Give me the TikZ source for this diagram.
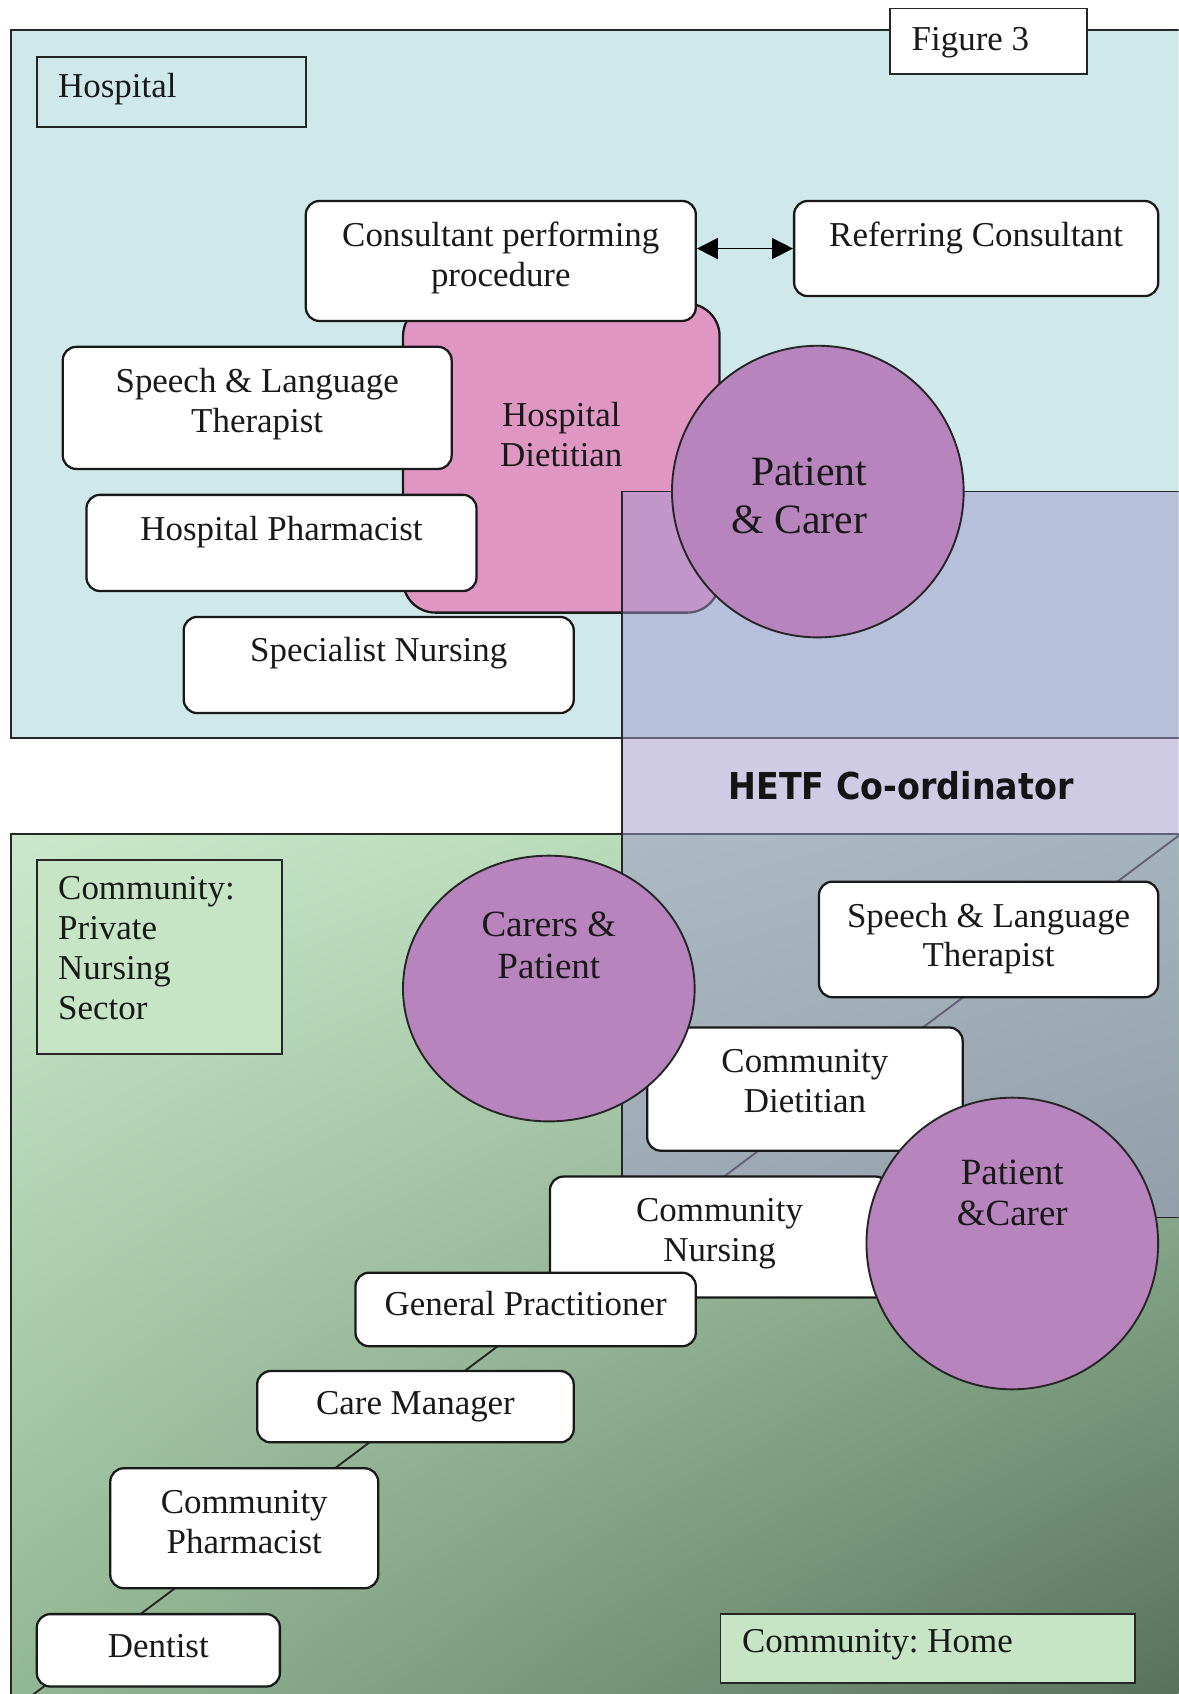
\documentclass[tikz,border=0pt]{standalone}
\usepackage{fontspec}
\setmainfont{Liberation Serif}
\newfontfamily\hetffont[FakeStretch=0.9]{DejaVu Sans}
\usepackage{xcolor}
\usetikzlibrary{positioning,shapes.geometric,arrows.meta,shadings}
\definecolor{hospcyan}{HTML}{CFE9EA}
\definecolor{dietpink}{HTML}{E096C3}
\definecolor{patmauve}{HTML}{B784BE}
\definecolor{coordlav}{HTML}{A199CD}
\definecolor{seclabel}{HTML}{C6E5C4}
\definecolor{grnUL}{HTML}{CAE9CA}
\definecolor{grnUR}{HTML}{A8CFAA}
\definecolor{grnLL}{HTML}{92B794}
\definecolor{grnLR}{HTML}{56705A}
\newlength\upx
\setlength\upx{0.02cm}
\frenchspacing
% centred text, first baseline #1 below the top of the box
\newcommand\cbox[4][41]{\parbox[c][#3\upx][t]{#2\upx}{\centering\rule{0pt}{#1\upx}#4}}
% left text for the sector labels
\newcommand\lbox[4][37]{\parbox[c][#3\upx][t]{#2\upx}{\raggedright\leftskip=20\upx\rule{0pt}{#1\upx}#4}}

\begin{document}
\begin{tikzpicture}[x=0.02cm,y=-0.02cm,
    font=\fontsize{18.4}{21}\selectfont,text=black!90,
    region/.style={draw=black!85,line width=0.85pt},
    rbox/.style={draw=black!90,fill=white,rounded corners=0.25cm,line width=1.2pt,inner sep=0pt,anchor=north west},
    sector/.style={draw=black!85,line width=1pt,inner sep=0pt,anchor=north west},
    pcirc/.style={draw=black!85,fill=patmauve,line width=1pt,inner sep=0pt,text=black!90,font=\fontsize{19.5}{22}\selectfont}]
\useasboundingbox (0,0) rectangle (1091,1568);
\clip (0,0) rectangle (1091,1568);
\fill[white] (0,0) rectangle (1091,1568);

% Hospital
\draw[region,fill=hospcyan] (10,28) rectangle (1093,683);
% Community
\coordinate (comNW) at (10,772);
\coordinate (comNE) at (1093,772);
\coordinate (comSW) at (10,1584);
\coordinate (comSE) at (1093,1584);
\shade[upper left=grnUL,upper right=grnUR,lower left=grnLL,lower right=grnLR] (comNW) rectangle (comSE);
\draw[region] (comNW) rectangle (comSE);
\draw[line width=1pt,black!85] (comSW) -- (comNE); % diagonal

\node[sector,fill=white] (fig) at (823,7) {\lbox[39]{182}{61}{Figure 3}};
\node[sector] (hosp) at (33,52) {\lbox{249}{65}{Hospital}};
\node[rbox,fill=dietpink,rounded corners=0.6cm] (hdiet) at (372,280) {\cbox[114]{293}{286}{Hospital\\Dietitian}};
\node[rbox] (cpp) at (282,185) {\cbox[42]{361}{111}{Consultant performing\\procedure}};
\node[rbox] (rc) at (734,185) {\cbox[42]{337}{88}{Referring Consultant}};
\node[rbox] (hslt) at (57,320) {\cbox[42]{360}{113}{Speech \& Language\\Therapist}};
\node[rbox] (hpharm) at (79,457) {\cbox[42]{361}{89}{Hospital Pharmacist}};
\node[rbox] (spec) at (169,570) {\cbox{361}{89}{Specialist Nursing}};
\draw[{Triangle[length=11pt,width=11pt]}-{Triangle[length=11pt,width=11pt]},line width=0.9pt] (cpp.east |- rc.west) -- (rc.west);

% HETF co-ordinator
\draw[region,fill=coordlav,fill opacity=0.5] (576,455) rectangle (1093,1127);
\node[font=\hetffont\bfseries\fontsize{19.5}{22}\selectfont,text=black!92] (hetf) at (834,727) {HETF Co-ordinator};

\node[pcirc,circle,minimum size=5.4cm] (pcar) at (757,455) {};
\node[font=\fontsize{22}{25.5}\selectfont,text=black!90,align=right,anchor=east,inner sep=0pt] (pcartxt) at (803,459) {Patient\\\& Carer};

% community boxes
\node[sector,fill=seclabel] (cpriv) at (33,795) {\lbox{227}{180}{Community:\\Private\\Nursing\\Sector}};
\node[sector,fill=seclabel] (chome) at (666,1493) {\lbox[36]{384}{64}{Community: Home}};
\node[rbox] (cslt) at (757,815) {\cbox[42]{314}{107}{Speech \& Language\\Therapist}};
\node[rbox] (cdiet) at (598,950) {\cbox[42]{292}{114}{Community\\Dietitian}};
\node[rbox] (cnurs) at (508,1088) {\cbox[42]{314}{112}{Community\\Nursing}};
\node[rbox] (gp) at (328,1177) {\cbox[40]{315}{68}{General Practitioner}};
\node[rbox] (cman) at (237,1268) {\cbox[40]{293}{66}{Care Manager}};
\node[rbox] (cpharm) at (101,1358) {\cbox[42]{248}{111}{Community\\Pharmacist}};
\node[rbox] (dent) at (33,1493) {\cbox[40]{225}{67}{Dentist}};

\node[pcirc,ellipse,minimum width=5.4cm,minimum height=4.92cm] (carp) at (508,915) {\cbox[32]{150}{160}{Carers \&\\Patient}};
\node[pcirc,circle,minimum size=5.4cm] (pcar2) at (937,1151) {\cbox[35]{160}{180}{Patient\\\&Carer}};
\end{tikzpicture}
\end{document}
